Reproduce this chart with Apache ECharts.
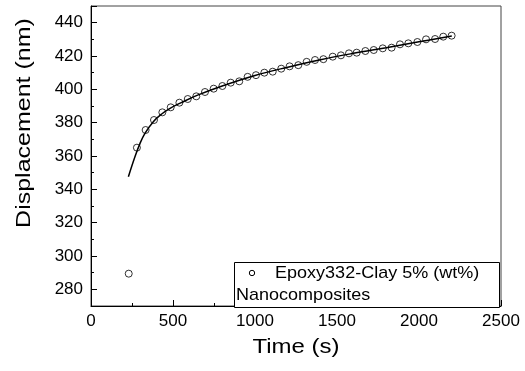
<!DOCTYPE html>
<html>
<head>
<meta charset="utf-8">
<script src="https://cdn.jsdelivr.net/npm/echarts@6/dist/echarts.min.js"></script>
<style>
html,body{margin:0;padding:0;background:#fff;}
#chart{width:525px;height:371px;}
</style>
</head>
<body>
<div id="chart"></div>
<script>
// Measured data (Time in s, Displacement in nm)
const timeData = [230,280,333,384,435,486,539,590,642,695,748,801,852,904,955,1006,1057,1108,1160,1211,1264,1315,1366,1417,1474,1524,1573,1620,1673,1724,1779,1833,1884,1935,1990,2043,2098,2148,2199];
const dispData = [289.4,365,375.6,381.6,386.2,389.2,392,394.2,395.8,398.4,400.4,402,404,404.8,407.5,408.5,410,410.6,412.4,413.8,414.5,416.5,417.6,418.1,419.6,420.4,421.6,422,423,423.6,424.6,425,427,427.6,428.4,430,430.2,431.6,432.2];
// Fitted curve
const fitTime = [228,268,299,329,380,431,482,550,650,800,1000,1200,1400,1600,1800,2000,2200];
const fitDisp = [347.6,359.6,367.6,373.6,380.6,385.2,388.6,392,396.5,402,408.3,413.3,417.8,421.6,425,428.5,432];
const seriesName = 'Epoxy332-Clay 5% (wt%)';
const legendLine2 = 'Nanocomposites';
const xTitle = 'Time (s)';
const yTitle = 'Displacement (nm)';

const FONT = '"Liberation Sans", Arial, sans-serif';
const chart = echarts.init(document.getElementById('chart'), null, {renderer: 'canvas'});

const scatterData = timeData.map((t, i) => [t, dispData[i]]);
const fitData = fitTime.map((t, i) => [t, fitDisp[i]]);

chart.setOption({
  animation: false,
  backgroundColor: '#fff',
  grid: {left: 91, right: 24, top: 6, bottom: 65, show: true, borderColor: '#444', borderWidth: 1, backgroundColor: 'transparent'},
  xAxis: {
    type: 'value', min: 0, max: 2500, interval: 500,
    axisLine: {show: true, lineStyle: {color: '#000', width: 1}},
    axisTick: {show: true, inside: true, length: 6, lineStyle: {color: '#000'}},
    minorTick: {show: true, splitNumber: 2, length: 3, lineStyle: {color: '#000'}},
    axisLabel: {color: '#000', fontSize: 17, fontFamily: FONT, margin: 7, formatter: v => String(v)},
    splitLine: {show: false}
  },
  yAxis: [{
    type: 'value', min: 270, max: 450, splitNumber: 9,
    axisLine: {show: true, lineStyle: {color: '#000', width: 1}},
    axisTick: {show: true, inside: true, length: 6, lineStyle: {color: '#000'}},
    axisLabel: {color: '#000', fontSize: 17, fontFamily: FONT, margin: 8,
      formatter: v => (v % 20 === 0 ? String(v) : '')},
    splitLine: {show: false}
  }, {
    type: 'value', min: 270, max: 450, interval: 10, position: 'left', offset: 0,
    axisLine: {show: false},
    axisTick: {show: true, inside: true, length: 3, lineStyle: {color: '#000'}},
    axisLabel: {show: false},
    splitLine: {show: false}
  }],
  series: [{
    type: 'line', name: 'fit', data: fitData, smooth: 0.4, showSymbol: false,
    lineStyle: {color: '#000', width: 1.5}, z: 2
  }, {
    type: 'scatter', name: seriesName, data: scatterData, symbol: 'circle', symbolSize: 7,
    itemStyle: {color: 'rgba(0,0,0,0)', borderColor: '#000', borderWidth: 1}, z: 3
  }],
  graphic: [
    {type: 'rect', z: 100, shape: {x: 234.5, y: 262.5, width: 265, height: 45},
     style: {fill: '#fff', stroke: '#000', lineWidth: 1}},
    {type: 'circle', z: 101, shape: {cx: 252, cy: 273, r: 2.7},
     style: {fill: 'none', stroke: '#000', lineWidth: 1}},
    {type: 'text', z: 101, x: 275, y: 273, scaleX: 1.06,
     style: {text: seriesName, fontSize: 17, fontFamily: FONT, fill: '#000', align: 'left', verticalAlign: 'middle'}},
    {type: 'text', z: 101, x: 236, y: 295, scaleX: 1.06,
     style: {text: legendLine2, fontSize: 17, fontFamily: FONT, fill: '#000', align: 'left', verticalAlign: 'middle'}},
    {type: 'text', z: 101, x: 296, y: 347, scaleX: 1.2, scaleY: 1,
     style: {text: xTitle, fontSize: 20, fontFamily: FONT, fill: '#000', align: 'center', verticalAlign: 'middle'}},
    {type: 'text', z: 101, x: 24, y: 123, rotation: Math.PI / 2, scaleX: 1.25, scaleY: 1,
     style: {text: yTitle, fontSize: 20, fontFamily: FONT, fill: '#000', align: 'center', verticalAlign: 'middle'}}
  ]
});
</script>
</body>
</html>
